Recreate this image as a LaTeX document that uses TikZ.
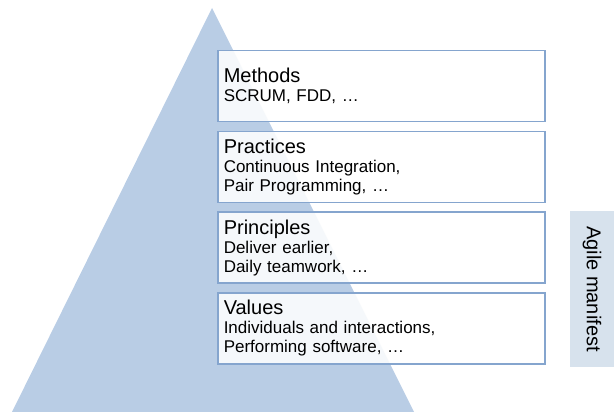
\documentclass[tikz,border=0pt]{standalone}
\usepackage{fontspec}
\setmainfont{Liberation Sans}
\usetikzlibrary{positioning}
\definecolor{pyramidblue}{HTML}{B9CDE5}
\definecolor{layerline}{HTML}{85A5CE}
\definecolor{manifestbg}{HTML}{D7E2ED}
\newcommand{\layerhead}[1]{{\fontsize{20}{19}\selectfont #1}}
\begin{document}
\begin{tikzpicture}[x=1pt,y=-1pt]
    \tikzstyle{layer} = [rectangle, draw=layerline, line width=1.5pt,
        fill=white, fill opacity=0.87, text opacity=1, align=left,
        text width=315pt, minimum width=327pt, minimum height=71pt,
        inner xsep=6pt, font=\fontsize{17}{19}\selectfont]
    \tikzstyle{manifest} = [rectangle, fill=manifestbg, rotate=-90,
        minimum width=156pt, minimum height=44pt,
        font=\fontsize{20}{24}\selectfont]

    \useasboundingbox (0,0) rectangle (614,412);
    \fill[pyramidblue] (212,8) -- (414,412) -- (12,412) -- cycle;

    \node(methods) [layer]
        at (217,50) [anchor=north west]
        {\layerhead{Methods}\\ SCRUM, FDD, …};
    \node(practices) [layer, below of=methods, node distance=80.7pt]
        {\layerhead{Practices}\\ Continuous Integration,\\
        Pair Programming, …};
    \node(principles) [layer, below of=practices, node distance=80.7pt]
        {\layerhead{Principles}\\ Deliver earlier,\\ Daily teamwork, …};
    \node(values) [layer, below of=principles, node distance=80.7pt]
        {\layerhead{Values}\\ Individuals and interactions,\\
        Performing software, …};

    \node(agile) [manifest] at (592,289) {Agile manifest};
\end{tikzpicture}
\end{document}
